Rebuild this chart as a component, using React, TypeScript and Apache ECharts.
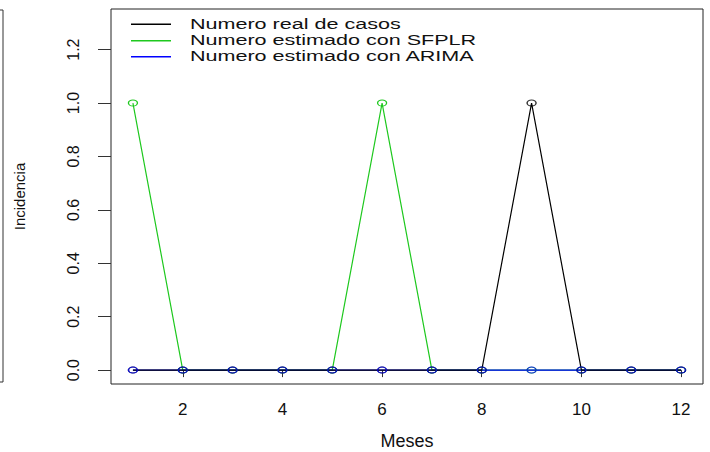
import React, { useEffect, useRef } from "react";
import * as echarts from "echarts";

const months = [1, 2, 3, 4, 5, 6, 7, 8, 9, 10, 11, 12];
const realCases = [0, 0, 0, 0, 0, 0, 0, 0, 1, 0, 0, 0];
const sfplr = [1, 0, 0, 0, 0, 1, 0, 0, 0, 0, 0, 0];
const arima = [0, 0, 0, 0, 0, 0, 0, 0, 0, 0, 0, 0];
const seriesNames = [
  "Numero real de casos",
  "Numero estimado con SFPLR",
  "Numero estimado con ARIMA",
];
const seriesColors = ["#000000", "#1ec81e", "#0000ff"];
const xTicks = [2, 4, 6, 8, 10, 12];
const yTicks = [0, 0.2, 0.4, 0.6, 0.8, 1.0, 1.2];
const xTitle = "Meses";
const yTitle = "Incidencia";

const FONT = "'Liberation Sans', Arial, sans-serif";
const ELLIPSE = "path://M0,5A5,5,0,1,1,10,5A5,5,0,1,1,0,5Z";

function pairs(vals: number[]) {
  return months.map((m, i) => [m, vals[i]]);
}

export default function App() {
  const ref = useRef<HTMLDivElement>(null);
  useEffect(() => {
    if (!ref.current) return;
    const chart = echarts.init(ref.current, null, { renderer: "svg" });

    const lineSeries = (name: string, vals: number[], color: string, showSymbol: boolean) => ({
      type: "line",
      name,
      data: pairs(vals),
      z: 2,
      symbol: ELLIPSE,
      symbolSize: [9, 6],
      symbolKeepAspect: false,
      showSymbol,
      showAllSymbol: true,
      lineStyle: { color, width: 1.2 },
      itemStyle: { color: "rgba(0,0,0,0)", borderColor: color, borderWidth: 1.1 },
      emphasis: { disabled: true },
    });

    const markerSeries = (name: string, vals: number[], color: string) => ({
      type: "scatter",
      name,
      data: pairs(vals),
      z: 2,
      symbol: ELLIPSE,
      symbolSize: [9, 6],
      symbolKeepAspect: false,
      itemStyle: { color: "rgba(0,0,0,0)", borderColor: color, borderWidth: 1.2 },
      emphasis: { disabled: true },
    });

    const legendItems: any[] = [];
    const rowsY = [24.3, 40.7, 56.7];
    seriesNames.forEach((n, i) => {
      legendItems.push({
        type: "line",
        shape: { x1: 131, y1: rowsY[i], x2: 171, y2: rowsY[i] },
        style: { stroke: seriesColors[i], lineWidth: 1.6 },
      });
      legendItems.push({
        type: "text",
        x: 190,
        y: rowsY[i],
        scaleX: 1.54,
        style: {
          text: n,
          fill: "#111",
          font: `14px ${FONT}`,
          textVerticalAlign: "middle",
          textAlign: "left",
        },
      });
    });

    chart.setOption({
      animation: false,
      backgroundColor: "#ffffff",
      grid: {
        left: 111,
        right: 7,
        top: 9,
        bottom: 68,
        show: true,
        borderColor: "#222",
        borderWidth: 1,
        backgroundColor: "rgba(0,0,0,0)",
        containLabel: false,
        outerBoundsMode: "none",
      },
      xAxis: {
        type: "value",
        min: 0.56,
        max: 12.44,
        name: xTitle,
        nameLocation: "middle",
        nameGap: 48,
        nameTextStyle: { fontSize: 18, color: "#111", fontFamily: FONT },
        axisLine: { show: false },
        splitLine: { show: false },
        axisTick: {
          show: true,
          length: 7,
          customValues: xTicks,
          lineStyle: { color: "#333", width: 1 },
        },
        axisLabel: {
          customValues: xTicks,
          margin: 17,
          fontSize: 17,
          color: "#111",
          fontFamily: FONT,
        },
      },
      yAxis: {
        type: "value",
        min: -0.052,
        max: 1.352,
        name: yTitle,
        nameLocation: "middle",
        nameRotate: 90,
        nameGap: 84,
        nameTextStyle: { fontSize: 15, color: "#111", fontFamily: FONT },
        axisLine: { show: false },
        splitLine: { show: false },
        axisTick: {
          show: true,
          length: 13,
          customValues: yTicks,
          lineStyle: { color: "#333", width: 1 },
        },
        axisLabel: {
          customValues: yTicks,
          rotate: 90,
          margin: 30,
          fontSize: 16,
          color: "#111",
          fontFamily: FONT,
          formatter: (v: number) => v.toFixed(1),
        },
      },
      series: [
        lineSeries(seriesNames[1], sfplr, seriesColors[1], true),
        lineSeries(seriesNames[2], arima, seriesColors[2], false),
        lineSeries(seriesNames[0], realCases, seriesColors[0], false),
        markerSeries(seriesNames[0] + " (puntos)", realCases, seriesColors[0]),
        markerSeries(seriesNames[2] + " (puntos)", arima, seriesColors[2]),
      ],
      graphic: [
        {
          type: "rect",
          shape: { x: -20, y: 10, width: 23, height: 372 },
          style: { fill: "none", stroke: "#333", lineWidth: 1 },
        },
        ...legendItems,
      ],
    });
    return () => chart.dispose();
  }, []);
  return (
    <div
      ref={ref}
      style={{ position: "fixed", left: 0, top: 0, width: 710, height: 452, background: "#fff" }}
    />
  );
}
